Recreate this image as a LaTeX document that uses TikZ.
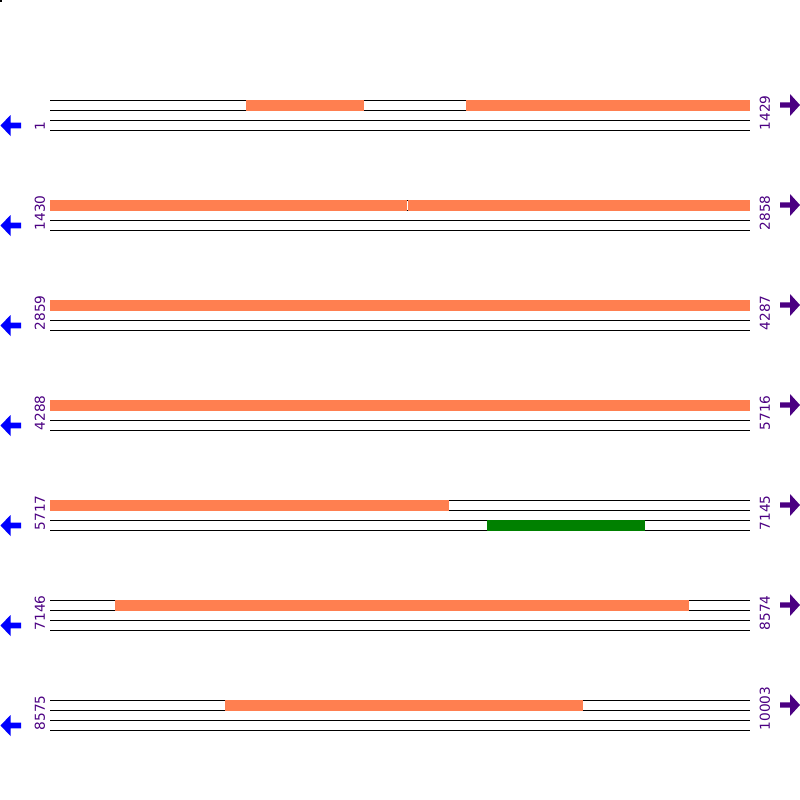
\documentclass[tikz,border=0pt]{standalone}
\usepackage{fontspec}
\setmainfont{DejaVu Sans}
\definecolor{featorange}{HTML}{FF7F50}
\definecolor{featgreen}{HTML}{008000}
\definecolor{numpurple}{HTML}{4B0082}
\begin{document}
\begin{tikzpicture}[x=1pt,y=-1pt,
  strand/.style={line width=1pt},
  orangebar/.style={fill=featorange},
  greenbar/.style={fill=featgreen},
  posnum/.style={rotate=90,anchor=west,inner sep=0pt,text=numpurple,font=\fontsize{13.7}{14}\selectfont},
  leftarrow/.style={fill=blue},
  rightarrow/.style={fill=numpurple}]
\useasboundingbox (0,0) rectangle (800,800);
\fill (0,0) rectangle (2,2);
% row 1
\draw[strand] (50,100) -- (750,100) (50,110) -- (750,110) (50,120) -- (750,120) (50,130) -- (750,130);
\fill[orangebar] (246,99.5) rectangle (364,110.5);
\fill[orangebar] (466,99.5) rectangle (750,110.5);
\node[posnum] (start1) at (40,130.5) {1};
\node[posnum] (end1) at (765,130.5) {1429};
\fill[leftarrow] (0.5,125.5) -- ++(10,-10.5) -- ++(0,7.7) -- ++(10.5,0) -- ++(0,5.6) -- ++(-10.5,0) -- ++(0,7.7) -- cycle;
\fill[rightarrow] (800,105) -- ++(-10,-11) -- ++(0,8.3) -- ++(-10,0) -- ++(0,5.4) -- ++(10,0) -- ++(0,8.3) -- cycle;
% row 2
\draw[strand] (50,200) -- (750,200) (50,210) -- (750,210) (50,220) -- (750,220) (50,230) -- (750,230);
\fill[orangebar] (50,199.5) rectangle (406.7,210.5);
\fill[orangebar] (407.7,199.5) rectangle (750,210.5);
\node[posnum] (start2) at (40,230.5) {1430};
\node[posnum] (end2) at (765,230.5) {2858};
\fill[leftarrow] (0.5,225.5) -- ++(10,-10.5) -- ++(0,7.7) -- ++(10.5,0) -- ++(0,5.6) -- ++(-10.5,0) -- ++(0,7.7) -- cycle;
\fill[rightarrow] (800,205) -- ++(-10,-11) -- ++(0,8.3) -- ++(-10,0) -- ++(0,5.4) -- ++(10,0) -- ++(0,8.3) -- cycle;
% row 3
\draw[strand] (50,300) -- (750,300) (50,310) -- (750,310) (50,320) -- (750,320) (50,330) -- (750,330);
\fill[orangebar] (50,299.5) rectangle (750,310.5);
\node[posnum] (start3) at (40,330.5) {2859};
\node[posnum] (end3) at (765,330.5) {4287};
\fill[leftarrow] (0.5,325.5) -- ++(10,-10.5) -- ++(0,7.7) -- ++(10.5,0) -- ++(0,5.6) -- ++(-10.5,0) -- ++(0,7.7) -- cycle;
\fill[rightarrow] (800,305) -- ++(-10,-11) -- ++(0,8.3) -- ++(-10,0) -- ++(0,5.4) -- ++(10,0) -- ++(0,8.3) -- cycle;
% row 4
\draw[strand] (50,400) -- (750,400) (50,410) -- (750,410) (50,420) -- (750,420) (50,430) -- (750,430);
\fill[orangebar] (50,399.5) rectangle (750,410.5);
\node[posnum] (start4) at (40,430.5) {4288};
\node[posnum] (end4) at (765,430.5) {5716};
\fill[leftarrow] (0.5,425.5) -- ++(10,-10.5) -- ++(0,7.7) -- ++(10.5,0) -- ++(0,5.6) -- ++(-10.5,0) -- ++(0,7.7) -- cycle;
\fill[rightarrow] (800,405) -- ++(-10,-11) -- ++(0,8.3) -- ++(-10,0) -- ++(0,5.4) -- ++(10,0) -- ++(0,8.3) -- cycle;
% row 5
\draw[strand] (50,500) -- (750,500) (50,510) -- (750,510) (50,520) -- (750,520) (50,530) -- (750,530);
\fill[orangebar] (50,499.5) rectangle (449,510.5);
\fill[greenbar] (487.3,519.5) rectangle (645,530.5);
\node[posnum] (start5) at (40,530.5) {5717};
\node[posnum] (end5) at (765,530.5) {7145};
\fill[leftarrow] (0.5,525.5) -- ++(10,-10.5) -- ++(0,7.7) -- ++(10.5,0) -- ++(0,5.6) -- ++(-10.5,0) -- ++(0,7.7) -- cycle;
\fill[rightarrow] (800,505) -- ++(-10,-11) -- ++(0,8.3) -- ++(-10,0) -- ++(0,5.4) -- ++(10,0) -- ++(0,8.3) -- cycle;
% row 6
\draw[strand] (50,600) -- (750,600) (50,610) -- (750,610) (50,620) -- (750,620) (50,630) -- (750,630);
\fill[orangebar] (115,599.5) rectangle (689,610.5);
\node[posnum] (start6) at (40,630.5) {7146};
\node[posnum] (end6) at (765,630.5) {8574};
\fill[leftarrow] (0.5,625.5) -- ++(10,-10.5) -- ++(0,7.7) -- ++(10.5,0) -- ++(0,5.6) -- ++(-10.5,0) -- ++(0,7.7) -- cycle;
\fill[rightarrow] (800,605) -- ++(-10,-11) -- ++(0,8.3) -- ++(-10,0) -- ++(0,5.4) -- ++(10,0) -- ++(0,8.3) -- cycle;
% row 7
\draw[strand] (50,700) -- (750,700) (50,710) -- (750,710) (50,720) -- (750,720) (50,730) -- (750,730);
\fill[orangebar] (225,699.5) rectangle (583,710.5);
\node[posnum] (start7) at (40,730.5) {8575};
\node[posnum] (end7) at (765,730.5) {10003};
\fill[leftarrow] (0.5,725.5) -- ++(10,-10.5) -- ++(0,7.7) -- ++(10.5,0) -- ++(0,5.6) -- ++(-10.5,0) -- ++(0,7.7) -- cycle;
\fill[rightarrow] (800,705) -- ++(-10,-11) -- ++(0,8.3) -- ++(-10,0) -- ++(0,5.4) -- ++(10,0) -- ++(0,8.3) -- cycle;
\end{tikzpicture}
\end{document}
